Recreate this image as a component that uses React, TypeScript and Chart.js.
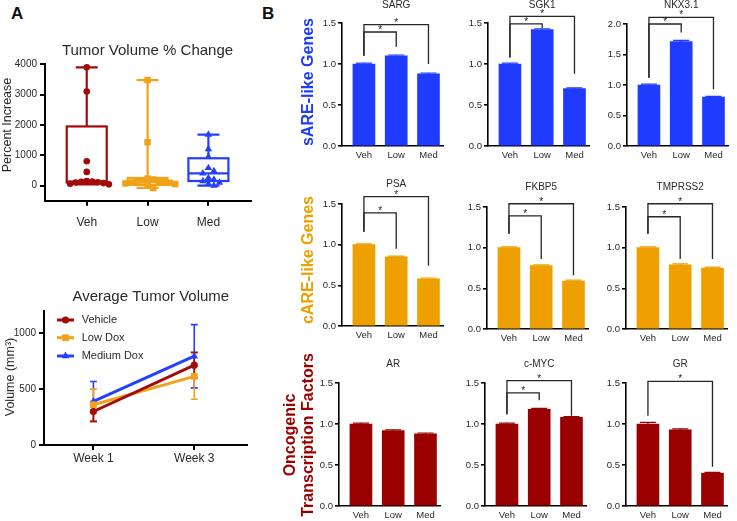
import React, { useEffect, useRef } from "react";
import { Chart, registerables } from "chart.js";

Chart.register(...registerables);

const FONT = "'Liberation Sans', Arial, Helvetica, sans-serif";
const TXT = "#2a2a2a";
const BLUE = "#1f3bff";
const ORANGE = "#eda000";
const RED = "#9b0000";
const VEH_C = "#a30b0b";
const LOW_C = "#f0a31a";
const MED_C = "#2440ff";

// ---------------- Panel A: Tumor Volume % Change ----------------
const groupLabels = ["Veh", "Low", "Med"];
const vehPctChange = [3900, 3100, 800, 450, 150, 130, 120, 110, 100, 80, 60, 40];
const lowPctChange = [3480, 1430, 230, 200, 170, 150, 130, 110, 100, 90, 70, 50, 20, -80];
const medPctChange = [1680, 1200, 950, 580, 480, 400, 250, 200, 150, 100, 60, 0];
const boxMin = [40, -80, 0];
const boxQ1 = [100, 20, 150];
const boxMedian = [130, 110, 400];
const boxQ3 = [1950, 250, 900];
const boxMax = [3900, 3480, 1680];
const pctTicks = [0, 1000, 2000, 3000, 4000];

// ---------------- Panel A: Average Tumor Volume ----------------
const weekLabels = ["Week 1", "Week 3"];
const vehicleVol = [300, 715];
const vehicleErr = [90, 115];
const lowDoxVol = [360, 615];
const lowDoxErr = [140, 205];
const medDoxVol = [390, 795];
const medDoxErr = [178, 283];
const volTicks = [0, 500, 1000];

// ---------------- Panel B: gene expression ----------------
const barCats = ["Veh", "Low", "Med"];
const sargVals = [1.0, 1.1, 0.88];
const sgk1Vals = [1.0, 1.42, 0.7];
const nkx31Vals = [1.0, 1.71, 0.8];
const psaVals = [1.0, 0.85, 0.58];
const fkbp5Vals = [1.0, 0.78, 0.59];
const tmprss2Vals = [1.0, 0.79, 0.75];
const arVals = [1.0, 0.92, 0.88];
const cmycVals = [1.0, 1.18, 1.08];
const grVals = [1.0, 0.93, 0.4];
const sargErr = [0.01, 0.01, 0.01];
const sgk1Err = [0.01, 0.01, 0.01];
const nkx31Err = [0.015, 0.02, 0.015];
const psaErr = [0.01, 0.01, 0.01];
const fkbp5Err = [0.01, 0.01, 0.01];
const tmprss2Err = [0.01, 0.01, 0.01];
const arErr = [0.01, 0.01, 0.01];
const cmycErr = [0.01, 0.01, 0.01];
const grErr = [0.02, 0.01, 0.01];
// significance brackets: [from, to, bracket level, from-end level, to-end level]
type Sig = [number, number, number, number, number];
const sargSig: Sig[] = [[0, 2, 1.48, 1.1, 1.0], [0, 1, 1.39, 1.1, 1.21]];
const sgk1Sig: Sig[] = [[0, 2, 1.58, 1.08, 0.88], [0, 1, 1.49, 1.08, 1.44]];
const nkx31Sig: Sig[] = [[0, 2, 2.11, 1.12, 0.93], [0, 1, 2.0, 1.12, 1.86]];
const psaSig: Sig[] = [[0, 2, 1.59, 1.16, 0.74], [0, 1, 1.39, 1.16, 0.95]];
const fkbp5Sig: Sig[] = [[0, 2, 1.54, 1.17, 0.66], [0, 1, 1.39, 1.17, 0.86]];
const tmprss2Sig: Sig[] = [[0, 2, 1.54, 1.17, 0.86], [0, 1, 1.38, 1.17, 0.86]];
const arSig: Sig[] = [];
const cmycSig: Sig[] = [[0, 2, 1.53, 1.12, 1.1], [0, 1, 1.38, 1.12, 1.29]];
const grSig: Sig[] = [[0, 2, 1.52, 1.1, 0.48]];

// ---------------- layout ----------------
type Box = { left: number; top: number; width: number; height: number };
type BarLay = { axisX: number; topY: number; zeroY: number; titleY: number };
type BarSpec = {
  title: string; vals: number[]; errs: number[]; sig: Sig[]; color: string; yMax: number; lay: BarLay;
};

const BAR_SPECS: BarSpec[] = [
  { title: "SARG", vals: sargVals, errs: sargErr, sig: sargSig, color: BLUE, yMax: 1.5, lay: { axisX: 342, topY: 22.5, zeroY: 145.7, titleY: 5 } },
  { title: "SGK1", vals: sgk1Vals, errs: sgk1Err, sig: sgk1Sig, color: BLUE, yMax: 1.5, lay: { axisX: 487.5, topY: 22.5, zeroY: 145.7, titleY: 5 } },
  { title: "NKX3.1", vals: nkx31Vals, errs: nkx31Err, sig: nkx31Sig, color: BLUE, yMax: 2.0, lay: { axisX: 626.5, topY: 23.5, zeroY: 145.7, titleY: 5 } },
  { title: "PSA", vals: psaVals, errs: psaErr, sig: psaSig, color: ORANGE, yMax: 1.5, lay: { axisX: 341.5, topY: 203.7, zeroY: 326, titleY: 184 } },
  { title: "FKBP5", vals: fkbp5Vals, errs: fkbp5Err, sig: fkbp5Sig, color: ORANGE, yMax: 1.5, lay: { axisX: 486.5, topY: 206.7, zeroY: 329.3, titleY: 186.7 } },
  { title: "TMPRSS2", vals: tmprss2Vals, errs: tmprss2Err, sig: tmprss2Sig, color: ORANGE, yMax: 1.5, lay: { axisX: 626, topY: 206.7, zeroY: 329.3, titleY: 187.3 } },
  { title: "AR", vals: arVals, errs: arErr, sig: arSig, color: RED, yMax: 1.5, lay: { axisX: 338.5, topY: 382.5, zeroY: 505.7, titleY: 363.5 } },
  { title: "c-MYC", vals: cmycVals, errs: cmycErr, sig: cmycSig, color: RED, yMax: 1.5, lay: { axisX: 485, topY: 382.5, zeroY: 505.7, titleY: 364 } },
  { title: "GR", vals: grVals, errs: grErr, sig: grSig, color: RED, yMax: 1.5, lay: { axisX: 626, topY: 382.5, zeroY: 505.7, titleY: 364 } },
];

const BOX_BOX: Box = { left: 0, top: 30, width: 262, height: 210 };
const LINE_BOX: Box = { left: 0, top: 285, width: 262, height: 190 };

function font(size: number, bold = false) {
  return `${bold ? "bold " : ""}${size}px ${FONT}`;
}

// simple beeswarm layout for scatter points (pixel-space approximations)
function swarm(values: number[], center: number, pxPerX: number, pxPerY: number, diam: number) {
  const placed: { x: number; y: number }[] = [];
  const order = values.map((_, i) => i).sort((a, b) => values[b] - values[a]);
  const out: number[] = new Array(values.length).fill(center);
  const step = diam * 0.85;
  for (const i of order) {
    const py = values[i] * pxPerY;
    for (let k = 0; k < 60; k++) {
      const px = (k % 2 === 1 ? 1 : -1) * Math.ceil(k / 2) * step;
      if (placed.every((p) => Math.hypot(p.x - px, p.y - py) >= step)) {
        placed.push({ x: px, y: py });
        out[i] = center + px / pxPerX;
        break;
      }
    }
  }
  return out;
}

function textPlugin(box: Box, items: { text: string; x: number; y: number; size: number; color?: string; rot?: boolean; bold?: boolean }[]) {
  return {
    id: "pageText",
    afterDraw(chart: any) {
      const ctx = chart.ctx;
      ctx.save();
      for (const it of items) {
        ctx.save();
        ctx.translate(it.x - box.left, it.y - box.top);
        if (it.rot) ctx.rotate(-Math.PI / 2);
        ctx.font = font(it.size, it.bold);
        ctx.fillStyle = it.color || TXT;
        ctx.textAlign = "center";
        ctx.textBaseline = "middle";
        ctx.fillText(it.text, 0, 0);
        ctx.restore();
      }
      ctx.restore();
    },
  };
}

function axisCommon(width: number) {
  return {
    grid: { display: true, drawOnChartArea: false, drawTicks: true, tickLength: 5, color: "#000", lineWidth: width },
    border: { display: true, color: "#000", width },
  };
}

// ---------------- Box plot config ----------------
function makeBoxConfig() {
  const pxPerX = 60.8;
  const pxPerY = 136.4 / 4500;
  const groups = [vehPctChange, lowPctChange, medPctChange];
  const colors = [VEH_C, LOW_C, MED_C];
  const styles = ["circle", "rect", "triangle"];
  const radii = [3.3, 4.6, 4.3];
  const datasets = groups.map((vals, gi) => {
    const xs = swarm(vals, gi, pxPerX, pxPerY, 6.5);
    return {
      label: groupLabels[gi],
      data: vals.map((v, i) => ({ x: xs[i], y: v })),
      backgroundColor: colors[gi],
      borderColor: colors[gi],
      borderWidth: 0,
      pointStyle: styles[gi],
      pointRadius: radii[gi],
      clip: false,
    };
  });
  const boxPlugin = {
    id: "boxes",
    beforeDatasetsDraw(chart: any) {
      const { ctx } = chart;
      const x = chart.scales.x, y = chart.scales.y;
      ctx.save();
      ctx.lineWidth = 2.2;
      for (let i = 0; i < 3; i++) {
        const cx = x.getPixelForValue(i);
        const hw = 20, cw = 11;
        const y1 = y.getPixelForValue(boxQ1[i]);
        const y3 = y.getPixelForValue(boxQ3[i]);
        const ym = y.getPixelForValue(boxMedian[i]);
        const ylo = y.getPixelForValue(boxMin[i]);
        const yhi = y.getPixelForValue(boxMax[i]);
        ctx.strokeStyle = colors[i];
        ctx.strokeRect(cx - hw, y3, 2 * hw, y1 - y3);
        ctx.beginPath();
        ctx.moveTo(cx - hw, ym); ctx.lineTo(cx + hw, ym);
        ctx.moveTo(cx, y3); ctx.lineTo(cx, yhi);
        ctx.moveTo(cx - cw, yhi); ctx.lineTo(cx + cw, yhi);
        ctx.moveTo(cx, y1); ctx.lineTo(cx, ylo);
        ctx.moveTo(cx - cw, ylo); ctx.lineTo(cx + cw, ylo);
        ctx.stroke();
      }
      ctx.restore();
    },
  };
  return {
    type: "scatter",
    data: { datasets },
    options: {
      animation: false,
      responsive: false,
      devicePixelRatio: 1,
      layout: { padding: { top: 34.3, right: BOX_BOX.width - 251, left: 0, bottom: 0 } },
      plugins: { legend: { display: false }, tooltip: { enabled: false } },
      scales: {
        x: {
          type: "linear", min: -0.686, max: 2.7, offset: false,
          afterBuildTicks: (s: any) => { s.ticks = [0, 1, 2].map((v) => ({ value: v })); },
          afterFit: (s: any) => { s.height = BOX_BOX.top + BOX_BOX.height - 200.7; },
          ticks: { callback: (v: any) => groupLabels[v], font: { family: FONT, size: 12 }, color: TXT, padding: 10, maxRotation: 0, autoSkip: false },
          ...axisCommon(2),
        },
        y: {
          min: -500, max: 4000,
          afterBuildTicks: (s: any) => { s.ticks = pctTicks.map((v) => ({ value: v })); },
          afterFit: (s: any) => { s.width = 45; },
          ticks: { callback: (v: any) => String(v), font: { family: FONT, size: 10 }, color: TXT, padding: 3 },
          ...axisCommon(2),
        },
      },
    },
    plugins: [
      boxPlugin,
      textPlugin(BOX_BOX, [
        { text: "Tumor Volume % Change", x: 147.5, y: 50.7, size: 15 },
        { text: "Percent Increase", x: 7.5, y: 125, size: 12.5, rot: true },
      ]),
    ],
  };
}

// ---------------- Line chart config ----------------
function makeLineConfig() {
  const series = [
    { label: "Vehicle", vals: vehicleVol, errs: vehicleErr, color: VEH_C, style: "circle", r: 3.6 },
    { label: "Low Dox", vals: lowDoxVol, errs: lowDoxErr, color: LOW_C, style: "rect", r: 4.8 },
    { label: "Medium Dox", vals: medDoxVol, errs: medDoxErr, color: MED_C, style: "triangle", r: 4.4 },
  ];
  const datasets = series.map((s) => ({
    label: s.label,
    data: s.vals.map((v, i) => ({ x: i, y: v })),
    borderColor: s.color,
    backgroundColor: s.color,
    borderWidth: 3,
    pointStyle: s.style,
    pointRadius: s.r,
    pointBorderWidth: 0,
    showLine: true,
    clip: false,
  }));
  const marker = (ctx: any, style: string, x: number, y: number, r: number) => {
    ctx.beginPath();
    if (style === "circle") ctx.arc(x, y, r, 0, Math.PI * 2);
    else if (style === "rect") { const h = r * Math.SQRT1_2; ctx.rect(x - h, y - h, 2 * h, 2 * h); }
    else {
      ctx.moveTo(x, y - r);
      ctx.lineTo(x + r * Math.sin((2 * Math.PI) / 3), y - r * Math.cos((2 * Math.PI) / 3));
      ctx.lineTo(x + r * Math.sin((4 * Math.PI) / 3), y - r * Math.cos((4 * Math.PI) / 3));
      ctx.closePath();
    }
    ctx.fill();
  };
  const extras = {
    id: "lineExtras",
    beforeDatasetsDraw(chart: any) {
      const { ctx } = chart;
      const x = chart.scales.x, y = chart.scales.y;
      ctx.save();
      ctx.lineWidth = 1.6;
      for (let si = series.length - 1; si >= 0; si--) {
        const s = series[si];
        ctx.strokeStyle = s.color;
        s.vals.forEach((v, i) => {
          const cx = x.getPixelForValue(i);
          const yt = y.getPixelForValue(v + s.errs[i]);
          const yb = y.getPixelForValue(v - s.errs[i]);
          ctx.beginPath();
          ctx.moveTo(cx, yb); ctx.lineTo(cx, yt);
          ctx.moveTo(cx - 3.5, yt); ctx.lineTo(cx + 3.5, yt);
          ctx.moveTo(cx - 3.5, yb); ctx.lineTo(cx + 3.5, yb);
          ctx.stroke();
        });
      }
      ctx.restore();
    },
    afterDraw(chart: any) {
      const { ctx } = chart;
      ctx.save();
      const rows = [320, 337.7, 356];
      series.forEach((s, i) => {
        const yy = rows[i] - LINE_BOX.top;
        ctx.strokeStyle = s.color;
        ctx.fillStyle = s.color;
        ctx.lineWidth = 3;
        ctx.beginPath(); ctx.moveTo(57, yy); ctx.lineTo(74, yy); ctx.stroke();
        marker(ctx, s.style, 65.5, yy, s.r);
        ctx.fillStyle = TXT;
        ctx.font = font(11);
        ctx.textAlign = "left";
        ctx.textBaseline = "middle";
        ctx.fillText(s.label, 81.7, yy);
      });
      ctx.restore();
    },
  };
  return {
    type: "scatter",
    data: { datasets },
    options: {
      animation: false,
      responsive: false,
      devicePixelRatio: 1,
      layout: { padding: { top: 311 - LINE_BOX.top, right: LINE_BOX.width - 246.7, left: 0, bottom: 0 } },
      plugins: { legend: { display: false }, tooltip: { enabled: false } },
      scales: {
        x: {
          type: "linear", min: -0.49, max: 1.52, offset: false,
          afterBuildTicks: (s: any) => { s.ticks = [0, 1].map((v) => ({ value: v })); },
          afterFit: (s: any) => { s.height = LINE_BOX.top + LINE_BOX.height - 445; },
          ticks: { callback: (v: any) => weekLabels[v], font: { family: FONT, size: 12 }, color: TXT, padding: 1, maxRotation: 0, autoSkip: false },
          ...axisCommon(2),
        },
        y: {
          min: 0, max: 1200,
          afterBuildTicks: (s: any) => { s.ticks = volTicks.map((v) => ({ value: v })); },
          afterFit: (s: any) => { s.width = 44; },
          ticks: { callback: (v: any) => String(v), font: { family: FONT, size: 10 }, color: TXT, padding: 3 },
          ...axisCommon(2),
        },
      },
    },
    plugins: [
      extras,
      textPlugin(LINE_BOX, [
        { text: "Average Tumor Volume", x: 150.8, y: 297.3, size: 15 },
        { text: "Volume (mm³)", x: 11, y: 377, size: 12.5, rot: true },
      ]),
    ],
  };
}

// ---------------- Bar chart config ----------------
const BAR_YW = 40, BAR_PADTOP = 30, BAR_XH = 24, BAR_PADR = 6, BAR_AREAW = 101;

function barBox(lay: BarLay): Box {
  return {
    left: lay.axisX - BAR_YW,
    top: lay.topY - BAR_PADTOP,
    width: BAR_YW + BAR_AREAW + BAR_PADR,
    height: BAR_PADTOP + (lay.zeroY - lay.topY) + BAR_XH,
  };
}

function makeBarConfig(spec: BarSpec) {
  const lay = spec.lay;
  const extras = {
    id: "barExtras",
    afterDatasetsDraw(chart: any) {
      const { ctx, chartArea } = chart;
      const xs = chart.scales.x, ys = chart.scales.y;
      ctx.save();
      ctx.strokeStyle = spec.color;
      ctx.lineWidth = 1.2;
      spec.vals.forEach((v, i) => {
        const cx = xs.getPixelForValue(i);
        const yt = ys.getPixelForValue(v + spec.errs[i]);
        const yb = ys.getPixelForValue(v - spec.errs[i]);
        ctx.beginPath();
        ctx.moveTo(cx, yb); ctx.lineTo(cx, yt);
        ctx.moveTo(cx - 8, yt); ctx.lineTo(cx + 8, yt);
        ctx.stroke();
      });
      ctx.strokeStyle = "#262626";
      ctx.fillStyle = "#262626";
      ctx.lineWidth = 1.3;
      ctx.font = font(10);
      ctx.textAlign = "center";
      ctx.textBaseline = "alphabetic";
      spec.sig.forEach(([a, b, top, ea, eb]) => {
        const xa = xs.getPixelForValue(a), xb = xs.getPixelForValue(b);
        const yt = ys.getPixelForValue(top);
        const ya = ys.getPixelForValue(ea), yb = ys.getPixelForValue(eb);
        ctx.beginPath();
        ctx.moveTo(xa, ya); ctx.lineTo(xa, yt); ctx.lineTo(xb, yt); ctx.lineTo(xb, yb);
        ctx.stroke();
        ctx.fillText("*", (xa + xb) / 2, yt + 1);
      });
      ctx.fillStyle = TXT;
      ctx.font = font(10);
      ctx.textBaseline = "middle";
      ctx.fillText(spec.title, xs.getPixelForValue(1), chartArea.top - (lay.topY - lay.titleY));
      ctx.restore();
    },
  };
  return {
    type: "bar",
    data: {
      datasets: [{
        data: spec.vals.map((v, i) => ({ x: i, y: v })),
        backgroundColor: spec.color,
        borderWidth: 0,
        barThickness: 22,
      }],
    },
    options: {
      animation: false,
      responsive: false,
      devicePixelRatio: 1,
      layout: { padding: { top: BAR_PADTOP, right: BAR_PADR, left: 0, bottom: 0 } },
      plugins: { legend: { display: false }, tooltip: { enabled: false } },
      scales: {
        x: {
          type: "linear", min: -0.68, max: 2.45, offset: false,
          afterBuildTicks: (s: any) => { s.ticks = [0, 1, 2].map((v) => ({ value: v })); },
          afterFit: (s: any) => { s.height = BAR_XH; },
          ticks: { callback: (v: any) => barCats[v], font: { family: FONT, size: 9.5 }, color: TXT, padding: 4, maxRotation: 0, autoSkip: false },
          grid: { display: false, drawTicks: false, offset: false },
          border: { display: true, color: "#000", width: 1.6 },
        },
        y: {
          min: 0, max: spec.yMax,
          afterFit: (s: any) => { s.width = BAR_YW; },
          ticks: { stepSize: 0.5, callback: (v: any) => Number(v).toFixed(1), font: { family: FONT, size: 9.5 }, color: TXT, padding: 2 },
          grid: { display: true, drawOnChartArea: false, drawTicks: true, tickLength: 4, color: "#000", lineWidth: 1.6 },
          border: { display: true, color: "#000", width: 1.6 },
        },
      },
    },
    plugins: [extras],
  };
}

function ChartCanvas({ box, make }: { box: Box; make: () => any }) {
  const ref = useRef<HTMLCanvasElement>(null);
  useEffect(() => {
    const chart = new Chart(ref.current as HTMLCanvasElement, make());
    return () => chart.destroy();
  }, []);
  return (
    <canvas
      ref={ref}
      width={box.width}
      height={box.height}
      style={{ position: "absolute", left: box.left, top: box.top, width: box.width, height: box.height }}
    />
  );
}

const rotLabel = (x: number, y: number, color: string): React.CSSProperties => ({
  position: "absolute",
  left: x,
  top: y,
  transform: "translate(-50%, -50%) rotate(-90deg)",
  whiteSpace: "nowrap",
  color,
  font: font(16, true),
  lineHeight: "18px",
  textAlign: "center",
});

export default function App() {
  return (
    <div style={{ position: "absolute", left: 0, top: 0, width: 737, height: 521, background: "#fff", overflow: "hidden", fontFamily: FONT }}>
      <ChartCanvas box={BOX_BOX} make={makeBoxConfig} />
      <ChartCanvas box={LINE_BOX} make={makeLineConfig} />
      {BAR_SPECS.map((s) => (
        <ChartCanvas key={s.title} box={barBox(s.lay)} make={() => makeBarConfig(s)} />
      ))}
      <div style={{ position: "absolute", left: 11, top: 4, font: font(17, true), color: "#111" }}>A</div>
      <div style={{ position: "absolute", left: 262, top: 4, font: font(17, true), color: "#111" }}>B</div>
      <div style={rotLabel(308, 82, BLUE)}>sARE-like Genes</div>
      <div style={rotLabel(308, 260, ORANGE)}>cARE-like Genes</div>
      <div style={rotLabel(299, 435, RED)}>
        Oncogenic
        <br />
        Transcription Factors
      </div>
    </div>
  );
}
